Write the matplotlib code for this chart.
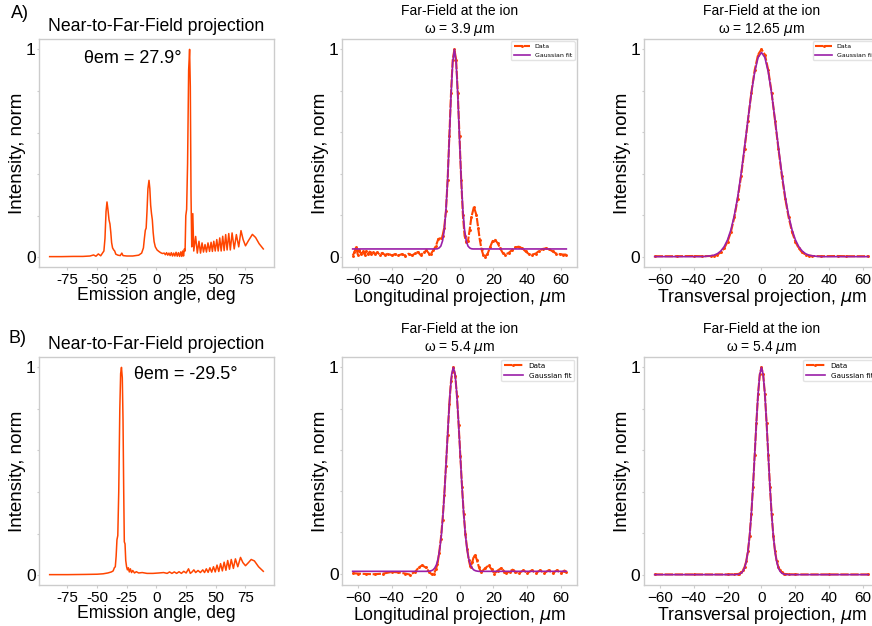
import numpy as np
import matplotlib.pyplot as plt

plt.rcParams['font.family'] = ['Liberation Sans', 'DejaVu Sans']

DATA_C = '#ff4500'
FIT_C = '#9a1fa8'
SPINE_C = '#cccccc'

# ---- A) near-to-far-field, emission angle (deg) vs intensity
nf_a = np.array([
    (-90, 0.003), (-80, 0.003), (-70, 0.004), (-62, 0.004), (-56, 0.006), (-53, 0.011),
    (-51, 0.005), (-49, 0.016), (-47, 0.007), (-45.5, 0.02), (-44.3, 0.03), (-43.4, 0.09),
    (-42.5, 0.22), (-41.7, 0.266), (-40.9, 0.23), (-40.0, 0.18), (-39.2, 0.16), (-38.5, 0.12),
    (-37.8, 0.07), (-37.0, 0.045), (-36.0, 0.035), (-35.2, 0.03), (-34.3, 0.015), (-32.5, 0.01),
    (-30.5, 0.008), (-29.2, 0.02), (-28.2, 0.008), (-25, 0.006), (-20, 0.006), (-15, 0.01),
    (-12.5, 0.02), (-11, 0.045), (-10.2, 0.09), (-9.4, 0.13), (-8.7, 0.14), (-8.0, 0.22),
    (-7.2, 0.33), (-6.3, 0.37), (-5.6, 0.33), (-4.9, 0.25), (-4.2, 0.21), (-3.5, 0.18),
    (-2.8, 0.12), (-2.0, 0.075), (-1.0, 0.05), (0.5, 0.035), (2, 0.028), (3.5, 0.022),
    (5, 0.018), (6.5, 0.02), (7.5, 0.012), (8.5, 0.022), (9.5, 0.01), (10.5, 0.02),
    (11.5, 0.008), (12.5, 0.022), (13.5, 0.006), (14.5, 0.02), (15.5, 0.006), (16.5, 0.024),
    (17.5, 0.005), (18.5, 0.022), (19.5, 0.004), (20.5, 0.026), (21.3, 0.004), (22.1, 0.03),
    (22.8, 0.006), (23.5, 0.04), (24.1, 0.03), (24.7, 0.2), (25.4, 0.23), (26.2, 0.45),
    (27.1, 0.9), (27.9, 1.0), (28.5, 0.82), (29.1, 0.3), (29.7, 0.05), (30.6, 0.21),
    (31.4, 0.03), (33.0, 0.10), (34.4, 0.02), (35.8, 0.077), (37.1, 0.02), (38.4, 0.069),
    (39.6, 0.025), (40.9, 0.061), (42.1, 0.025), (43.4, 0.069), (44.7, 0.028), (46.0, 0.072),
    (47.1, 0.028), (48.3, 0.077), (49.5, 0.03), (50.8, 0.085), (52.0, 0.03), (53.3, 0.093),
    (54.5, 0.03), (55.8, 0.101), (57.0, 0.032), (58.3, 0.109), (59.5, 0.035), (60.9, 0.114),
    (62.2, 0.035), (63.7, 0.117), (65.5, 0.04), (67.3, 0.109), (69.3, 0.05), (71.2, 0.128),
    (73.0, 0.085), (75.0, 0.055), (77.5, 0.08), (80.8, 0.11), (83.5, 0.095), (86.5, 0.065),
    (90, 0.04),
])

# ---- B) near-to-far-field
nf_b = np.array([
    (-90, 0.002), (-75, 0.002), (-60, 0.003), (-50, 0.004), (-45, 0.006), (-41, 0.01),
    (-38, 0.015), (-36.5, 0.02), (-35.5, 0.035), (-34.7, 0.04), (-34.0, 0.09), (-33.3, 0.17),
    (-32.6, 0.19), (-31.8, 0.4), (-30.9, 0.8), (-30.2, 0.97), (-29.5, 1.0), (-28.8, 0.95),
    (-28.2, 0.75), (-27.6, 0.4), (-27.1, 0.16), (-26.5, 0.15), (-25.9, 0.07), (-25.2, 0.04),
    (-24.5, 0.025), (-23.7, 0.035), (-22.9, 0.015), (-22.0, 0.03), (-21.0, 0.012), (-20.0, 0.022),
    (-18.5, 0.01), (-17.0, 0.016), (-15.0, 0.01), (-12.0, 0.012), (-8.0, 0.008), (-3.0, 0.008),
    (2.0, 0.01), (6.0, 0.012), (9.0, 0.008), (11.0, 0.015), (13.0, 0.008), (15.0, 0.015),
    (17.0, 0.008), (19.0, 0.016), (21.0, 0.008), (23.0, 0.018), (25.0, 0.01), (27.0, 0.03),
    (28.5, 0.008), (30.0, 0.015), (31.5, 0.025), (33.0, 0.012), (35.0, 0.022), (37.0, 0.012),
    (39.0, 0.025), (40.5, 0.012), (42.0, 0.03), (43.5, 0.013), (45.0, 0.035), (46.5, 0.014),
    (48.0, 0.04), (49.5, 0.015), (51.0, 0.048), (52.5, 0.017), (54.0, 0.055), (55.5, 0.02),
    (57.0, 0.062), (58.5, 0.023), (60.0, 0.07), (61.5, 0.028), (63.0, 0.075), (64.8, 0.032),
    (66.5, 0.078), (68.5, 0.04), (70.8, 0.085), (72.8, 0.06), (75.0, 0.045), (77.5, 0.06),
    (79.8, 0.075), (82.5, 0.068), (86.0, 0.04), (90, 0.018),
])

# ---- A) longitudinal far field (um, intensity)
long_a_data = np.array([
    (-63, 0.005), (-62, 0.02), (-61, 0.048), (-60.5, 0.03), (-60, 0.01), (-59, 0.03),
    (-58, 0.012), (-57, 0.028), (-56, 0.01), (-55, 0.026), (-54, 0.012), (-53, 0.024),
    (-52, 0.012), (-51, 0.022), (-50, 0.012), (-48.5, 0.02), (-47, 0.01), (-45.5, 0.018),
    (-44, 0.008), (-42, 0.015), (-40, 0.006), (-38, 0.012), (-36, 0.006), (-34, 0.012),
    (-32, 0.005), (-30, 0.014), (-28, 0.006), (-26, 0.016), (-24.5, 0.022), (-23, 0.008),
    (-21, 0.02), (-19.5, 0.03), (-18, 0.015), (-17, 0.012), (-15.5, 0.03), (-14, 0.05),
    (-12.5, 0.085), (-11, 0.09), (-10, 0.1), (-9, 0.14), (-8, 0.22), (-7, 0.37),
    (-6, 0.58), (-5, 0.79), (-4, 0.95), (-3, 1.0), (-2, 0.95), (-1, 0.79),
    (0, 0.58), (1, 0.37), (2, 0.2), (3, 0.1), (4, 0.07), (5, 0.075),
    (6, 0.13), (7, 0.19), (8.5, 0.24), (10, 0.2), (11, 0.14), (12, 0.08),
    (13, 0.035), (14, 0.008), (15, 0.0), (16.5, 0.012), (18, 0.045), (19.5, 0.075),
    (21, 0.081), (22.5, 0.065), (24, 0.04), (25.5, 0.018), (27, 0.01), (29, 0.018),
    (31, 0.032), (33, 0.045), (35, 0.048), (37, 0.04), (39, 0.025), (41, 0.012),
    (43, 0.01), (45, 0.015), (47, 0.028), (49, 0.037), (51, 0.04), (53, 0.035),
    (55, 0.025), (57, 0.015), (59, 0.012), (61, 0.01), (63, 0.01),
])
long_a_fit = np.array([
    (-63, 0.037), (-14, 0.037), (-13, 0.038), (-12, 0.042), (-11, 0.051), (-10, 0.076),
    (-9, 0.127), (-8, 0.223), (-7, 0.373), (-6, 0.57), (-5, 0.777), (-4, 0.938),
    (-3, 1.0), (-2, 0.938), (-1, 0.777), (0, 0.57), (1, 0.373), (2, 0.223),
    (3, 0.127), (4, 0.076), (5, 0.051), (6, 0.042), (7, 0.038), (8, 0.037), (63, 0.037),
])

# ---- A) transversal far field
trans_a_data = np.array([
    (-63, 0.002), (-50, 0.002), (-40, 0.003), (-35, 0.002), (-30, 0.003), (-28, 0.005),
    (-26, 0.01), (-24, 0.02), (-22, 0.04), (-20, 0.072), (-18, 0.12), (-16, 0.19),
    (-14, 0.28), (-12, 0.39), (-10, 0.52), (-8, 0.655), (-6, 0.79), (-4, 0.9),
    (-2, 0.975), (0, 1.0), (2, 0.975), (4, 0.9), (6, 0.79), (8, 0.655),
    (10, 0.52), (12, 0.39), (14, 0.28), (16, 0.19), (18, 0.12), (20, 0.072),
    (22, 0.04), (24, 0.02), (26, 0.01), (28, 0.005), (30, 0.003), (35, 0.002),
    (45, 0.003), (50, 0.002), (63, 0.002),
])
trans_a_fit = np.array([
    (-63, 0.0), (-36, 0.0), (-33, 0.001), (-30, 0.004), (-28, 0.007), (-26, 0.014),
    (-24, 0.027), (-22, 0.048), (-20, 0.081), (-18, 0.13), (-16, 0.199), (-14, 0.289),
    (-12, 0.401), (-10, 0.527), (-8, 0.66), (-6, 0.787), (-4, 0.891), (-2, 0.961),
    (0, 0.985), (2, 0.961), (4, 0.891), (6, 0.787), (8, 0.66), (10, 0.527),
    (12, 0.401), (14, 0.289), (16, 0.199), (18, 0.13), (20, 0.081), (22, 0.048),
    (24, 0.027), (26, 0.014), (28, 0.007), (30, 0.004), (33, 0.001), (36, 0.0), (63, 0.0),
])

# ---- B) longitudinal far field
long_b_data = np.array([
    (-63, 0.002), (-60, 0.0), (-55, -0.002), (-50, -0.003), (-45, 0.0), (-40, 0.008),
    (-36, 0.006), (-32, 0.0), (-29, -0.005), (-26, 0.01), (-24, 0.03), (-22, 0.04),
    (-20, 0.03), (-18, 0.01), (-16.5, -0.003), (-15, 0.0), (-14, 0.02), (-13, 0.045),
    (-12, 0.1), (-11, 0.17), (-10, 0.26), (-9, 0.38), (-8, 0.52), (-7, 0.67),
    (-6, 0.82), (-5, 0.935), (-3.6, 1.0), (-2.5, 0.96), (-1.5, 0.86), (-0.5, 0.72),
    (0.5, 0.57), (1.5, 0.42), (2.5, 0.29), (3.5, 0.19), (4.5, 0.12), (5.5, 0.065),
    (6.5, 0.03), (7.5, 0.055), (8.5, 0.085), (9.3, 0.088), (10.3, 0.065), (11.5, 0.03),
    (12.7, 0.006), (15, 0.025), (17.2, 0.04), (19, 0.02), (20.6, 0.0), (22.5, 0.015),
    (24.7, 0.027), (26.5, 0.01), (27.7, 0.003), (29.5, 0.01), (31.3, 0.019), (33, 0.008),
    (35, 0.002), (37.7, 0.016), (40, 0.002), (42.6, 0.016), (45, 0.002), (47.5, 0.016),
    (50, 0.002), (52.5, 0.016), (55, 0.002), (57.4, 0.016), (59.7, 0.002), (61.9, 0.015),
    (63, 0.008),
])
long_b_fit = np.array([
    (-63, 0.011), (-18.6, 0.011), (-17.6, 0.012), (-16.6, 0.014), (-15.6, 0.018), (-14.6, 0.027),
    (-13.6, 0.043), (-12.6, 0.073), (-11.6, 0.121), (-10.6, 0.195), (-9.6, 0.299), (-8.6, 0.43),
    (-7.6, 0.582), (-6.6, 0.737), (-5.6, 0.873), (-4.6, 0.967), (-3.6, 1.0), (-2.6, 0.967),
    (-1.6, 0.873), (-0.6, 0.737), (0.4, 0.582), (1.4, 0.43), (2.4, 0.299), (3.4, 0.195),
    (4.4, 0.121), (5.4, 0.073), (6.4, 0.043), (7.4, 0.027), (8.4, 0.018), (9.4, 0.014),
    (10.4, 0.012), (11.4, 0.011), (63, 0.011),
])

# ---- B) transversal far field
trans_b_data = np.array([
    (-63, 0.001), (-40, 0.001), (-20, 0.001), (-16, 0.002), (-14, 0.003), (-13, 0.005),
    (-12, 0.012), (-11, 0.02), (-10, 0.036), (-9, 0.064), (-8, 0.112), (-7, 0.186),
    (-6, 0.291), (-5, 0.424), (-4, 0.578), (-3, 0.734), (-2, 0.872), (-1, 0.966),
    (0, 1.0), (1, 0.966), (2, 0.872), (3, 0.734), (4, 0.578), (5, 0.424),
    (6, 0.291), (7, 0.186), (8, 0.112), (9, 0.064), (10, 0.036), (11, 0.02),
    (12, 0.012), (13, 0.005), (14, 0.003), (16, 0.002), (20, 0.001), (40, 0.001), (63, 0.001),
])
trans_b_fit = np.array([
    (-63, 0.0), (-16, 0.0), (-14, 0.001), (-13, 0.003), (-12, 0.007), (-11, 0.016),
    (-10, 0.032), (-9, 0.062), (-8, 0.111), (-7, 0.186), (-6, 0.291), (-5, 0.424),
    (-4, 0.578), (-3, 0.734), (-2, 0.872), (-1, 0.966), (0, 1.0), (1, 0.966),
    (2, 0.872), (3, 0.734), (4, 0.578), (5, 0.424), (6, 0.291), (7, 0.186),
    (8, 0.111), (9, 0.062), (10, 0.032), (11, 0.016), (12, 0.007), (13, 0.003),
    (14, 0.001), (16, 0.0), (63, 0.0),
])

angle_ticks = [-75, -50, -25, 0, 25, 50, 75]
um_ticks = [-60, -40, -20, 0, 20, 40, 60]
y_ticks = [0, 0.2, 0.4, 0.6, 0.8, 1]
y_labels = ['0', '', '', '', '', '1']

theta_text = ['θem = 27.9°', 'θem = -29.5°']
theta_pos = [(-20.3, 0.954), (24.4, 0.965)]
widths = [['3.9', '12.65'], ['5.4', '5.4']]

fig = plt.figure(figsize=(8.72, 6.26), dpi=100)

col_x = [0.0447, 0.3922, 0.7385]
row_y = [0.5735, 0.0655]
w, h = 0.2695, 0.3642


def style(ax):
    for s in ax.spines.values():
        s.set_color(SPINE_C)
        s.set_linewidth(1.0)
    ax.tick_params(colors=SPINE_C, width=0.8, labelcolor='black')
    ax.tick_params(axis='y', labelsize=12.5, length=1.5, pad=1)
    ax.tick_params(axis='x', labelsize=11, length=2.5, pad=1.5)
    ax.set_yticks(y_ticks)
    ax.set_yticklabels(y_labels)
    ax.set_ylabel('Intensity, norm', fontsize=13.5, labelpad=0)


nf_sets = [nf_a, nf_b]
long_sets = [(long_a_data, long_a_fit), (long_b_data, long_b_fit)]
trans_sets = [(trans_a_data, trans_a_fit), (trans_b_data, trans_b_fit)]
legend_size = [4.5, 5.2]

for r in range(2):
    # left: near-to-far-field projection
    ax = fig.add_axes([col_x[0], row_y[r], w, h])
    nf = nf_sets[r]
    ax.plot(nf[:, 0], nf[:, 1], color=DATA_C, lw=1.1)
    style(ax)
    ax.set_xticks(angle_ticks)
    ax.set_xticklabels([str(t) for t in angle_ticks])
    ax.set_xlabel('Emission angle, deg', fontsize=12.7, labelpad=0)
    ax.set_title('Near-to-Far-Field projection', fontsize=12.7, pad=6)
    ax.text(theta_pos[r][0], theta_pos[r][1], theta_text[r], ha='center', va='center',
            fontsize=13)

    # middle / right: far field at the ion
    for c, (dat, fit), lab in [(1, long_sets[r], 'Longitudinal'), (2, trans_sets[r], 'Transversal')]:
        ax = fig.add_axes([col_x[c], row_y[r], w, h])
        ax.plot(dat[:, 0], dat[:, 1], color=DATA_C, lw=1.5, ls='--', dashes=(4, 0.8),
                marker='.', ms=2.2, label='Data')
        ax.plot(fit[:, 0], fit[:, 1], color=FIT_C, lw=1.2, label='Gaussian fit')
        style(ax)
        ax.set_xticks(um_ticks)
        ax.set_xlabel(lab + r' projection, $\mu$m', fontsize=12.7, labelpad=0)
        ax.set_title('Far-Field at the ion\nω = ' + widths[r][c - 1] + r' $\mu$m',
                     fontsize=10, pad=4, linespacing=1.3)
        ax.legend(loc='upper right', prop={'family': 'DejaVu Sans', 'size': legend_size[r]},
                  edgecolor='#dddddd', borderaxespad=0.4, handlelength=2.6)

fig.text(0.013, 0.978, 'A)', fontsize=13, va='center')
fig.text(0.010, 0.460, 'B)', fontsize=13, va='center')

fig.savefig('out.png', dpi=100)
